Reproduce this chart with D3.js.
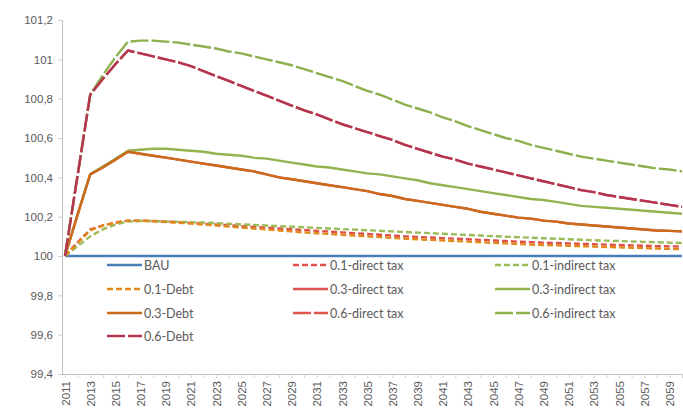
<!DOCTYPE html>
<html><head><meta charset="utf-8">
<script src="https://cdn.jsdelivr.net/npm/d3@7"></script>
<style>body{margin:0;background:#fff;}svg{display:block;font-family:Lato,"Open Sans",sans-serif;}</style>
</head><body>
<svg id="c" width="683" height="414"></svg>
<script>
const years = d3.range(2011, 2061);
const yTicks = [99.4, 99.6, 99.8, 100, 100.2, 100.4, 100.6, 100.8, 101, 101.2];
const xTickLabels = d3.range(2011, 2060, 2);

const bau = years.map(() => 100);
const debt01 = [100,100.065,100.13,100.155,100.17,100.18,100.18,100.177,100.173,100.169,100.165,100.16,100.155,100.15,100.145,100.14,100.135,100.13,100.125,100.12,100.116,100.112,100.108,100.104,100.1,100.096,100.092,100.088,100.085,100.082,100.079,100.076,100.073,100.07,100.067,100.064,100.061,100.058,100.056,100.054,100.052,100.05,100.048,100.046,100.044,100.042,100.04,100.038,100.036,100.035];
const direct01 = [100,100.07,100.135,100.155,100.17,100.18,100.18,100.178,100.175,100.172,100.168,100.164,100.16,100.156,100.152,100.148,100.144,100.14,100.136,100.132,100.128,100.124,100.12,100.116,100.112,100.108,100.104,100.1,100.097,100.094,100.091,100.088,100.085,100.082,100.079,100.076,100.073,100.07,100.068,100.066,100.064,100.062,100.06,100.058,100.056,100.054,100.052,100.05,100.049,100.048];
const indirect01 = [100,100.05,100.1,100.135,100.16,100.175,100.178,100.178,100.176,100.174,100.172,100.17,100.167,100.164,100.161,100.158,100.155,100.152,100.149,100.146,100.143,100.14,100.137,100.134,100.131,100.128,100.125,100.122,100.119,100.116,100.113,100.11,100.107,100.104,100.101,100.098,100.096,100.093,100.09,100.088,100.085,100.083,100.08,100.078,100.076,100.074,100.072,100.07,100.068,100.066];
const debt03 = [100,100.21,100.415,100.45,100.49,100.53,100.52,100.51,100.5,100.49,100.48,100.47,100.46,100.45,100.44,100.43,100.415,100.4,100.39,100.38,100.37,100.36,100.35,100.34,100.33,100.315,100.305,100.29,100.28,100.27,100.26,100.25,100.24,100.225,100.215,100.205,100.195,100.19,100.18,100.175,100.165,100.16,100.155,100.15,100.145,100.14,100.135,100.13,100.128,100.125];
const direct03 = debt03.slice();
const indirect03 = [100,100.21,100.415,100.455,100.495,100.535,100.54,100.545,100.545,100.54,100.535,100.53,100.52,100.515,100.51,100.5,100.495,100.485,100.475,100.465,100.455,100.45,100.44,100.43,100.42,100.415,100.405,100.395,100.385,100.37,100.36,100.35,100.34,100.33,100.32,100.31,100.3,100.29,100.285,100.275,100.265,100.255,100.25,100.245,100.24,100.235,100.23,100.225,100.22,100.215];
const debt06 = [100,100.41,100.82,100.9,100.975,101.045,101.03,101.015,101,100.985,100.965,100.94,100.915,100.89,100.865,100.84,100.815,100.79,100.765,100.74,100.72,100.695,100.67,100.65,100.63,100.61,100.59,100.565,100.545,100.525,100.505,100.49,100.47,100.455,100.44,100.425,100.41,100.395,100.38,100.365,100.35,100.335,100.325,100.31,100.3,100.29,100.28,100.27,100.26,100.25];
const direct06 = debt06.slice();
const indirect06 = [100,100.41,100.82,100.92,101.01,101.09,101.095,101.095,101.09,101.085,101.075,101.065,101.055,101.04,101.03,101.015,101,100.985,100.97,100.95,100.93,100.91,100.89,100.865,100.84,100.82,100.795,100.77,100.75,100.73,100.705,100.685,100.66,100.64,100.62,100.6,100.585,100.565,100.55,100.535,100.52,100.505,100.495,100.485,100.475,100.465,100.455,100.445,100.44,100.43];

// legend order (row-wise) = draw order
const series = [
  {name:"BAU", values:bau, color:"#4A7EBB", dash:null},
  {name:"0.1-direct tax", values:direct01, color:"#E0504A", dash:"6,3"},
  {name:"0.1-indirect tax", values:indirect01, color:"#9BBB59", dash:"6,3"},
  {name:"0.1-Debt", values:debt01, color:"#E08A1E", dash:"6,3"},
  {name:"0.3-direct tax", values:direct03, color:"#D9534F", dash:null},
  {name:"0.3-indirect tax", values:indirect03, color:"#92B350", dash:null},
  {name:"0.3-Debt", values:debt03, color:"#CC6A1C", dash:null},
  {name:"0.6-direct tax", values:direct06, color:"#E0544E", dash:"18,3"},
  {name:"0.6-indirect tax", values:indirect06, color:"#8DB04F", dash:"18,3"},
  {name:"0.6-Debt", values:debt06, color:"#B23650", dash:"18,3"}
];

const svg = d3.select("#c");
const x = d3.scalePoint().domain(years).range([65, 682]);
const y = d3.scaleLinear().domain([99.4, 101.2]).range([374, 20]);
const fmt = d => String(d).replace(".", ",");

// y axis
const ya = svg.append("g").attr("transform","translate(62,0)")
  .call(d3.axisLeft(y).tickValues(yTicks).tickFormat(fmt).tickSize(4).tickPadding(5));
ya.select(".domain").attr("stroke","#BFBFBF").attr("stroke-width",1);
ya.selectAll(".tick line").attr("stroke","#D0D0D0");
ya.selectAll("text").attr("fill","#595959").attr("font-size","11.5px");

// x axis
const xa = svg.append("g").attr("transform","translate(0,374)")
  .call(d3.axisBottom(x).tickValues(years).tickSize(4).tickFormat(d => xTickLabels.includes(d) ? d : ""));
xa.select(".domain").attr("stroke","#BFBFBF").attr("d","M62,0.5H683");
xa.selectAll(".tick line").attr("stroke","#D0D0D0");
xa.selectAll("text").attr("fill","#595959").attr("font-size","11.5px")
  .attr("transform","rotate(-90)").attr("text-anchor","end").attr("x",-7).attr("y",0).attr("dx",0).attr("dy","0.35em");

const line = d3.line().x((d,i) => x(years[i])).y(d => y(d));
svg.append("g").selectAll("path").data(series).join("path")
  .attr("d", s => line(s.values)).attr("fill","none")
  .attr("stroke", s => s.color).attr("stroke-width",2.4)
  .attr("stroke-dasharray", s => s.dash).attr("stroke-linejoin","round");

// legend
const colX = [107, 293, 495];
const rowY = [265, 289, 313, 336];
const lg = svg.append("g");
series.forEach((s,i) => {
  const cx = colX[i % 3], cy = rowY[Math.floor(i/3)];
  const g = lg.append("g").attr("transform",`translate(${cx},${cy})`);
  g.append("line").attr("x1",0).attr("x2",35).attr("y1",0).attr("y2",0)
    .attr("stroke",s.color).attr("stroke-width",2.4).attr("stroke-dasharray", s.dash);
  g.append("text").attr("x",37).attr("y",4.5).attr("fill","#595959").attr("font-size","12.5px").text(s.name);
});
</script>
</body></html>
